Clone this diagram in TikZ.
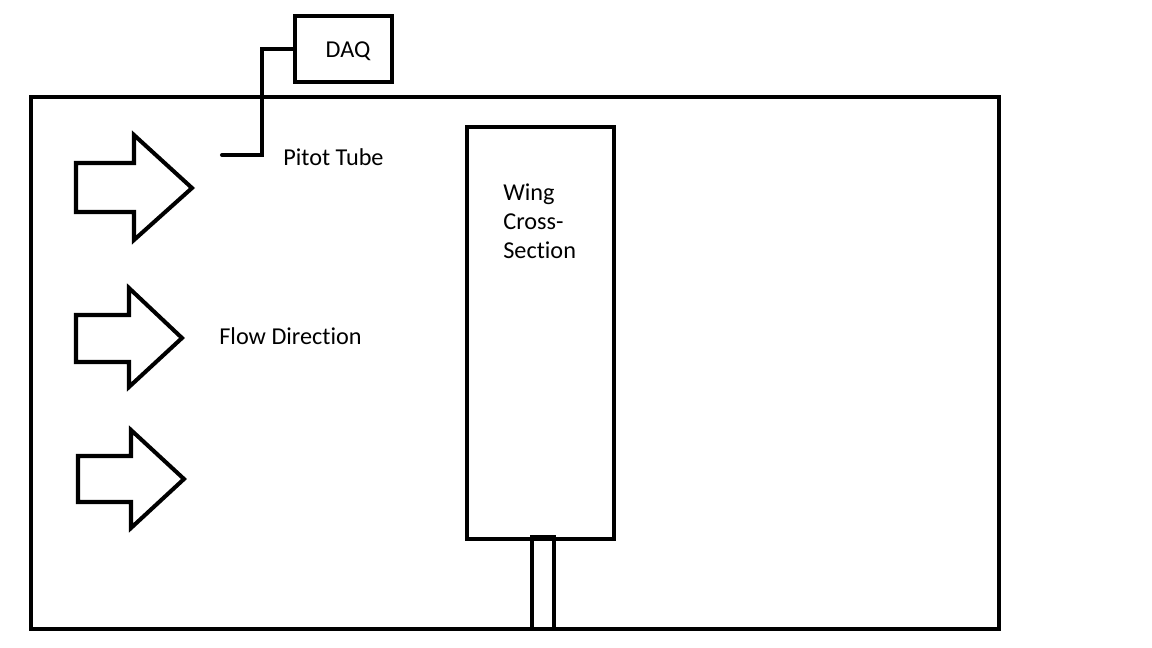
\documentclass[tikz,border=0pt]{standalone}
\usepackage{fontspec}
\setmainfont[Ligatures={NoCommon}]{Carlito}
\usetikzlibrary{positioning,calc}
\tikzset{
  outline/.style={draw=black, line width=2.3pt},
  flowarrow/.style={draw=black, line width=2.3pt, line join=miter},
  lbl/.style={font=\fontsize{13.8}{16.4}\selectfont, inner sep=0pt}
}

\begin{document}
\begin{tikzpicture}[x=0.02cm, y=-0.02cm]
\useasboundingbox (0,0) rectangle (1152,648);

\draw[outline] (31,97) rectangle (999,629);

\node[outline, minimum width=97*0.02cm, minimum height=66*0.02cm, inner sep=0pt] (daq) at (343.5,49) {};
\node[lbl] (daqtext) at (348,51) {DAQ};

\draw[outline] (467,127) rectangle (614,539);
\draw[outline] (532,537) rectangle (554,629);
\node[lbl, anchor=west, align=left] (wing) at (503,221) {Wing\\Cross-\\Section};

\coordinate (pitot) at (222,155);
\coordinate (bend) at (262,155);
\draw[outline, line cap=round] (pitot) -- (bend) |- (daq.west);
\node[lbl, anchor=west] (pitotlbl) at (283,157) {Pitot Tube};

\draw[flowarrow] (76,163) -- (134,163) -- (134,135) -- (192,188) -- (134,240) -- (134,212) -- (76,212) -- cycle;
\draw[flowarrow] (76,315) -- (129,315) -- (129,288) -- (182,338) -- (129,387) -- (129,362) -- (76,362) -- cycle;
\draw[flowarrow] (78,456) -- (131,456) -- (131,430) -- (184,479) -- (131,528) -- (131,502) -- (78,502) -- cycle;

\node[lbl, anchor=west] (flow) at (219,336) {Flow Direction};
\end{tikzpicture}
\end{document}
